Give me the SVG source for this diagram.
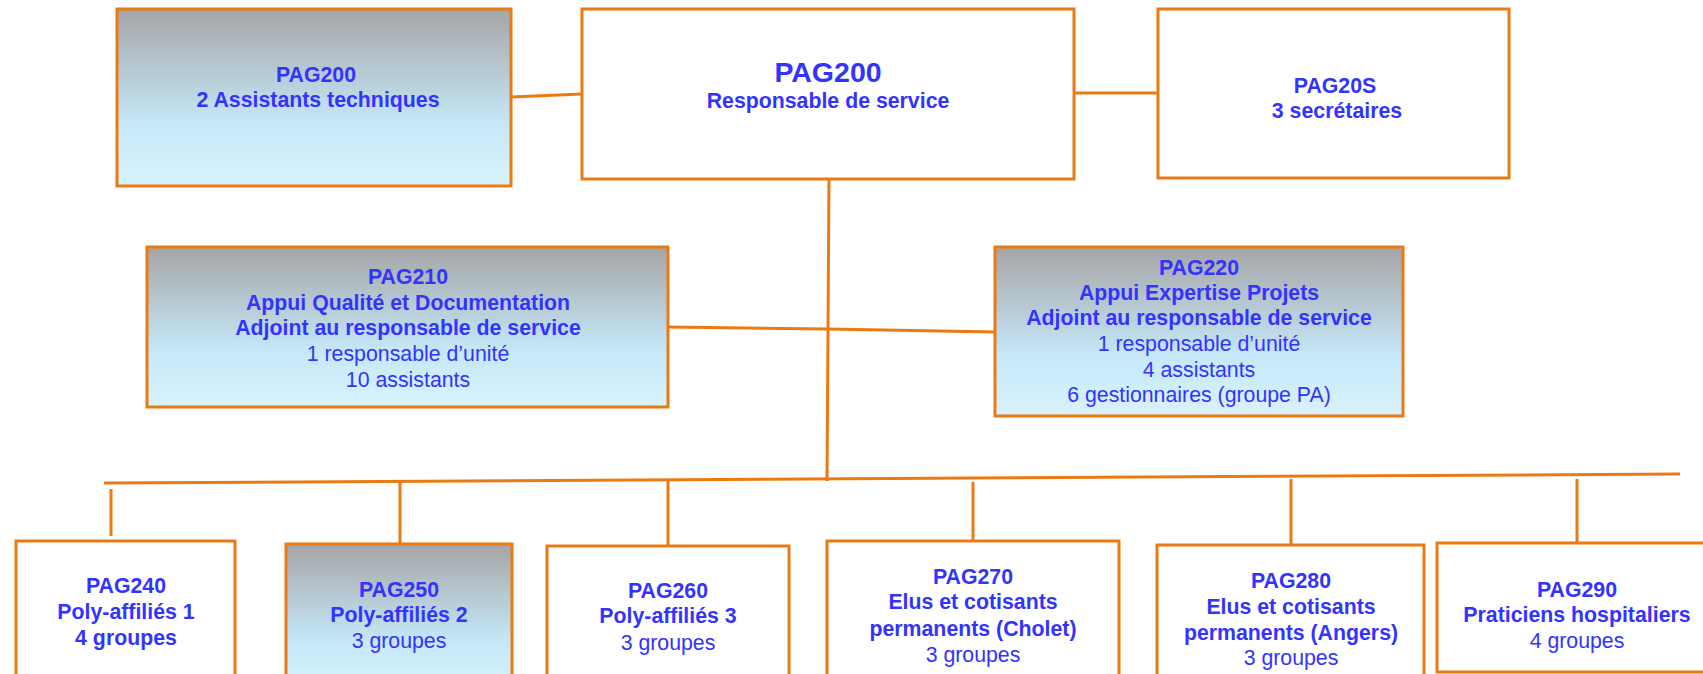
<svg xmlns="http://www.w3.org/2000/svg" width="1703" height="674" viewBox="0 0 1703 674">
<defs>
<linearGradient id="grad" x1="0" y1="0" x2="0" y2="1">
<stop offset="0" stop-color="#a5a5a5"/>
<stop offset="0.65" stop-color="#c5e8f9"/>
<stop offset="1" stop-color="#d9f3fd"/>
</linearGradient>
<style>
.box{fill:#ffffff;stroke:#ec7a12;stroke-width:3}
.gbox{fill:url(#grad);stroke:#ec7a12;stroke-width:3}
.line{fill:none;stroke:#ec7a12;stroke-width:3}
text{font-family:"Liberation Sans",Arial,sans-serif;font-size:21.3px;fill:#3333ff;text-anchor:middle}
.b{font-weight:bold}
.big{font-weight:bold;font-size:28.5px}
</style>
</defs>
<rect width="1703" height="674" fill="#ffffff"/>
<g id="connectors">
<line class="line" x1="511" y1="97" x2="582" y2="94"/>
<line class="line" x1="1074" y1="93" x2="1158" y2="93"/>
<line class="line" x1="829" y1="179" x2="827" y2="481"/>
<line class="line" x1="668" y1="327" x2="828" y2="329"/>
<line class="line" x1="828" y1="329" x2="995" y2="332"/>
<line class="line" x1="104" y1="483" x2="1680" y2="474"/>
<line class="line" x1="111" y1="489" x2="111" y2="536"/>
<line class="line" x1="400" y1="482" x2="400" y2="544"/>
<line class="line" x1="668" y1="480" x2="668" y2="546"/>
<line class="line" x1="973" y1="482" x2="973" y2="541"/>
<line class="line" x1="1291" y1="479" x2="1291" y2="545"/>
<line class="line" x1="1577" y1="479" x2="1577" y2="543"/>
</g>
<g id="node-assistants">
<rect class="gbox" x="117" y="9" width="394" height="177"/>
<text class="b" x="316" y="82">PAG200</text>
<text class="b" x="318" y="107">2 Assistants techniques</text>
</g>
<g id="node-responsable">
<rect class="box" x="582" y="9" width="492" height="170"/>
<text class="big" x="828" y="82">PAG200</text>
<text class="b" x="828" y="108">Responsable de service</text>
</g>
<g id="node-secretaires">
<rect class="box" x="1158" y="9" width="351" height="169"/>
<text class="b" x="1335" y="93">PAG20S</text>
<text class="b" x="1337" y="118">3 secrétaires</text>
</g>
<g id="node-pag210">
<rect class="gbox" x="147" y="247" width="521" height="160"/>
<text class="b" x="408" y="284">PAG210</text>
<text class="b" x="408" y="310">Appui Qualité et Documentation</text>
<text class="b" x="408" y="335">Adjoint au responsable de service</text>
<text x="408" y="361">1 responsable d’unité</text>
<text x="408" y="387">10 assistants</text>
</g>
<g id="node-pag220">
<rect class="gbox" x="995" y="247" width="408" height="169"/>
<text class="b" x="1199" y="275">PAG220</text>
<text class="b" x="1199" y="300">Appui Expertise Projets</text>
<text class="b" x="1199" y="325">Adjoint au responsable de service</text>
<text x="1199" y="351">1 responsable d’unité</text>
<text x="1199" y="377">4 assistants</text>
<text x="1199" y="402">6 gestionnaires (groupe PA)</text>
</g>
<g id="node-pag240">
<rect class="box" x="16" y="541" width="219" height="150"/>
<text class="b" x="126" y="593">PAG240</text>
<text class="b" x="126" y="619">Poly-affiliés 1</text>
<text class="b" x="126" y="645">4 groupes</text>
</g>
<g id="node-pag250">
<rect class="gbox" x="286" y="544" width="226" height="150"/>
<text class="b" x="399" y="597">PAG250</text>
<text class="b" x="399" y="622">Poly-affiliés 2</text>
<text x="399" y="648">3 groupes</text>
</g>
<g id="node-pag260">
<rect class="box" x="547" y="546" width="242" height="150"/>
<text class="b" x="668" y="598">PAG260</text>
<text class="b" x="668" y="623">Poly-affiliés 3</text>
<text x="668" y="650">3 groupes</text>
</g>
<g id="node-pag270">
<rect class="box" x="827" y="541" width="292" height="150"/>
<text class="b" x="973" y="584">PAG270</text>
<text class="b" x="973" y="609">Elus et cotisants</text>
<text class="b" x="973" y="636">permanents (Cholet)</text>
<text x="973" y="662">3 groupes</text>
</g>
<g id="node-pag280">
<rect class="box" x="1157" y="545" width="267" height="150"/>
<text class="b" x="1291" y="588">PAG280</text>
<text class="b" x="1291" y="614">Elus et cotisants</text>
<text class="b" x="1291" y="640">permanents (Angers)</text>
<text x="1291" y="665">3 groupes</text>
</g>
<g id="node-pag290">
<rect class="box" x="1437" y="543" width="280" height="129"/>
<text class="b" x="1577" y="597">PAG290</text>
<text class="b" x="1577" y="622">Praticiens hospitaliers</text>
<text x="1577" y="648">4 groupes</text>
</g>
</svg>
